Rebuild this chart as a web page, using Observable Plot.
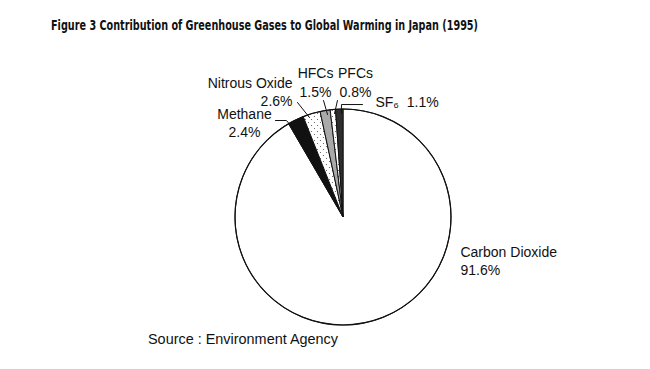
<!DOCTYPE html>
<html><head><meta charset="utf-8">
<script src="https://cdn.jsdelivr.net/npm/d3@7"></script>
<script src="https://cdn.jsdelivr.net/npm/@observablehq/plot@0.6"></script>
<style>
html,body{margin:0;padding:0;background:#fff;}
#wrap{position:relative;width:650px;height:369px;overflow:hidden;background:#fff;}
#title{position:absolute;left:51px;top:18px;font-weight:bold;font-size:14.5px;font-family:"Liberation Sans Narrow","DejaVu Sans Condensed","Liberation Sans",sans-serif;line-height:1;white-space:nowrap;transform-origin:0 0;color:#111;}
#source{position:absolute;left:148px;top:332px;font-size:14px;font-family:"Liberation Sans",Arial,sans-serif;line-height:1;white-space:nowrap;transform-origin:0 0;color:#111;}
#chart{position:absolute;left:0;top:45px;}
</style></head><body>
<div id="wrap">
<div id="title">Figure 3 Contribution of Greenhouse Gases to Global Warming in Japan (1995)</div>
<div id="chart"></div>
<div id="source">Source : Environment Agency</div>
</div>
<script>
// ---- data ----
const gases = ["Carbon Dioxide", "Methane", "Nitrous Oxide", "HFCs", "PFCs", "SF₆"];
const shares = [91.6, 2.4, 2.6, 1.5, 0.8, 1.1];

// ---- styles (kept apart from data) ----
const fills = ["#ffffff", "#111111", "url(#dots)", "#a9a9a9", "url(#dots)", "#2e2e2e"];

// label layout, in the unit-circle coordinates of the pie (radius = 1)
const labelX = [1.083, -0.917, -0.472, -0.259, 0.111, 0.296];
const labelY = [-0.537, 0.741, 1.028, 1.120, 1.120, 1.019];
const labelAnchor = ["start", "middle", "end", "middle", "middle", "start"];
// leader lines (unit-circle coordinates)
const leaders = [
  {g: "Methane", pts: [[-0.630, 0.898], [-0.528, 0.898], [-0.481, 0.843]]},
  {g: "Nitrous Oxide", pts: [[-0.426, 1.065], [-0.315, 0.926]]},
  {g: "HFCs", pts: [[-0.185, 1.083], [-0.148, 0.954]]},
  {g: "PFCs", pts: [[-0.056, 1.083], [-0.083, 0.963]]},
  {g: "SF₆", pts: [[-0.019, 0.963], [-0.019, 1.046], [0.176, 1.046]]}
];

const rows = gases.map((name, i) => ({name, share: shares[i], i}));
const labelRows = rows.map((d, i) => ({
  text: d.name === "SF₆" ? `${d.name}  ${d.share.toFixed(1)}%` : `${d.name}\n${d.share.toFixed(1)}%`,
  x: labelX[i], y: labelY[i], anchor: labelAnchor[i]
}));
const leaderRows = leaders.flatMap(l => l.pts.map(([x, y]) => ({g: l.g, x, y})));

// custom pie mark drawn through Plot's x/y scales
const pieMark = (index, scales) => {
  const {x, y} = scales;
  const cx = x(0), cy = y(0), r = x(1) - x(0);
  const g = d3.create("svg:g");
  const defs = g.append("defs");
  const pat = defs.append("pattern").attr("id", "dots")
    .attr("patternUnits", "userSpaceOnUse").attr("width", 6).attr("height", 6);
  pat.append("rect").attr("width", 6).attr("height", 6).attr("fill", "#fff");
  pat.append("circle").attr("cx", 1.5).attr("cy", 1.5).attr("r", 0.6).attr("fill", "#555");
  pat.append("circle").attr("cx", 4.5).attr("cy", 4.5).attr("r", 0.6).attr("fill", "#555");
  const body = g.append("g").attr("transform", `translate(${cx},${cy})`);
  const arcs = d3.pie().sort(null).value(d => d.share)(rows);
  const arc = d3.arc().innerRadius(0).outerRadius(r);
  body.selectAll("path").data(arcs).join("path")
    .attr("d", arc)
    .attr("fill", d => fills[d.data.i])
    .attr("stroke", "#111").attr("stroke-width", 1).attr("stroke-linejoin", "round");
  body.append("circle").attr("r", r).attr("fill", "none").attr("stroke", "#111").attr("stroke-width", 1.2);
  return g.node();
};

const textOpts = anchor => ({
  filter: d => d.anchor === anchor,
  x: "x", y: "y", text: "text",
  textAnchor: anchor,
  lineAnchor: "bottom", lineHeight: 1.29,
  fontSize: 14, fontFamily: "Liberation Sans, Arial, sans-serif", fill: "#111"
});

const chart = Plot.plot({
  width: 650,
  height: 285,
  margin: 0,
  x: {domain: [-1, 1], range: [235, 451], axis: null},
  y: {domain: [-1, 1], range: [280, 64], axis: null},
  marks: [
    pieMark,
    Plot.line(leaderRows, {x: "x", y: "y", z: "g", stroke: "#111", strokeWidth: 1}),
    Plot.text(labelRows, textOpts("start")),
    Plot.text(labelRows, textOpts("middle")),
    Plot.text(labelRows, textOpts("end"))
  ],
  style: {background: "#fff", overflow: "visible"}
});
document.getElementById("chart").append(chart);

function fitWidth(id, target) {
  const el = document.getElementById(id);
  const w = el.getBoundingClientRect().width;
  if (w > 0) el.style.transform = `scaleX(${target / w})`;
}
fitWidth("title", 427);
fitWidth("source", 190);
</script>
</body></html>
